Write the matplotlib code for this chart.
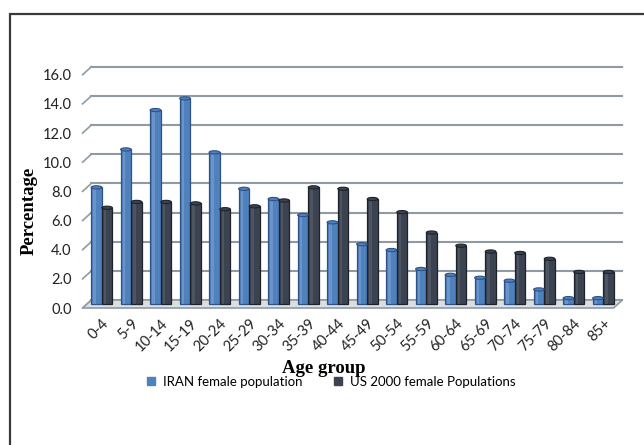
import numpy as np
import matplotlib
matplotlib.use('Agg')
import matplotlib.pyplot as plt
from matplotlib.patches import Polygon, Rectangle, Ellipse
from matplotlib.lines import Line2D
from matplotlib.transforms import ScaledTranslation

age_groups = ['0-4', '5-9', '10-14', '15-19', '20-24', '25-29', '30-34', '35-39',
              '40-44', '45-49', '50-54', '55-59', '60-64', '65-69', '70-74',
              '75-79', '80-84', '85+']
iran_female = [8.0, 10.6, 13.3, 14.1, 10.4, 7.9, 7.2, 6.1, 5.6, 4.1, 3.7, 2.4,
               2.0, 1.8, 1.6, 1.0, 0.4, 0.4]
us2000_female = [6.6, 7.0, 7.0, 6.9, 6.5, 6.7, 7.1, 8.0, 7.9, 7.2, 6.3, 4.9,
                 4.0, 3.6, 3.5, 3.1, 2.2, 2.2]
y_ticks = [0, 2, 4, 6, 8, 10, 12, 14, 16]

c_iran = '#4f81bd'
c_us = '#3c4350'
c_grid = '#8e9ba5'
tick_font = 'Lato'
label_font = 'Liberation Serif'

# depth of the pseudo-3D box, in data units (half depth front/back of bar plane)
dx, dy = 0.15, 0.275

fig = plt.figure(figsize=(6.44, 4.45), dpi=100)
ax = fig.add_axes([87 / 644, 1 - 304 / 445, 531 / 644, (304 - 70.7) / 445])
ax.set_xlim(-0.5, 17.5)
ax.set_ylim(0, 16)
for s in ax.spines.values():
    s.set_visible(False)
ax.patch.set_alpha(0)

x = np.arange(len(age_groups))
x0, x1 = -0.5, len(age_groups) - 0.5

# back wall gridlines with the slanted side wall edge
for v in y_ticks:
    ax.plot([x0 + dx, x1 + dx], [v + dy, v + dy], color=c_grid, lw=1.5,
            clip_on=False, zorder=1)
    ax.plot([x0 - dx, x0 + dx], [v - dy, v + dy], color=c_grid, lw=1.2,
            clip_on=False, zorder=1)

# floor
floor = Polygon([(x0 - dx, -dy), (x1 - dx, -dy), (x1 + dx, dy), (x0 + dx, dy)],
                closed=True, facecolor='#dcdfe2', edgecolor=c_grid, lw=1.2,
                clip_on=False, zorder=2)
ax.add_patch(floor)

w = 0.36
for xs, vals, col, edge, hi in [(x - w / 2, iran_female, c_iran, '#2c5286', '#7ea3d4'),
                                (x + w / 2, us2000_female, c_us, '#1e232b', '#5a6270')]:
    ax.bar(xs, vals, w, color=col, edgecolor=edge, lw=0.9, zorder=3, clip_on=False)
    ax.bar(xs - w * 0.18, vals, w * 0.22, color=hi, lw=0, alpha=0.6, zorder=3.5,
           clip_on=False)
    for xi, v in zip(xs, vals):
        ax.add_patch(Ellipse((xi, v), w, 0.22, facecolor=col, edgecolor=edge,
                             lw=0.8, zorder=4, clip_on=False))

# ticks
ax.tick_params(axis='both', length=0)
ax.set_yticks(y_ticks)
ax.set_yticklabels(['%.1f' % v for v in y_ticks], fontfamily=tick_font,
                   fontsize=10.5, color='#222222')
ax.tick_params(axis='y', pad=11)
shift_down = ScaledTranslation(0, -4 / 100, fig.dpi_scale_trans)
for lab in ax.get_yticklabels():
    lab.set_transform(lab.get_transform() + shift_down)

ax.set_xticks(x)
ax.set_xticklabels(age_groups, rotation=45, ha='right', va='top',
                   rotation_mode='anchor', fontfamily=tick_font, fontsize=10.5,
                   color='#222222')
ax.tick_params(axis='x', pad=9)

ax.set_ylabel('Percentage', fontfamily=label_font, fontweight='bold',
              fontsize=13.5)
ax.yaxis.set_label_coords(-0.093, 0.40)
ax.set_xlabel('Age group', fontfamily=label_font, fontweight='bold',
              fontsize=13.5)
ax.xaxis.set_label_coords(0.446, -0.238)

handles = [Line2D([], [], ls='none', marker='s', markersize=6, color=c_iran),
           Line2D([], [], ls='none', marker='s', markersize=6, color=c_us)]
fig.legend(handles, ['IRAN female population', 'US 2000 female Populations'],
           loc='center', bbox_to_anchor=(0.512, 1 - 382 / 445), ncol=2,
           frameon=False, handletextpad=0.4, columnspacing=2.2, handlelength=1.0,
           prop={'family': tick_font, 'size': 9.5})

# chart border (only left and top edges fall inside the image)
fig.patches.append(Rectangle((9.5 / 644, -0.05), 1.2, 1 - 13.5 / 445 + 0.05,
                             transform=fig.transFigure, fill=False,
                             edgecolor='#3a3a3a', lw=1.6))

fig.savefig('out.png', dpi=100)
